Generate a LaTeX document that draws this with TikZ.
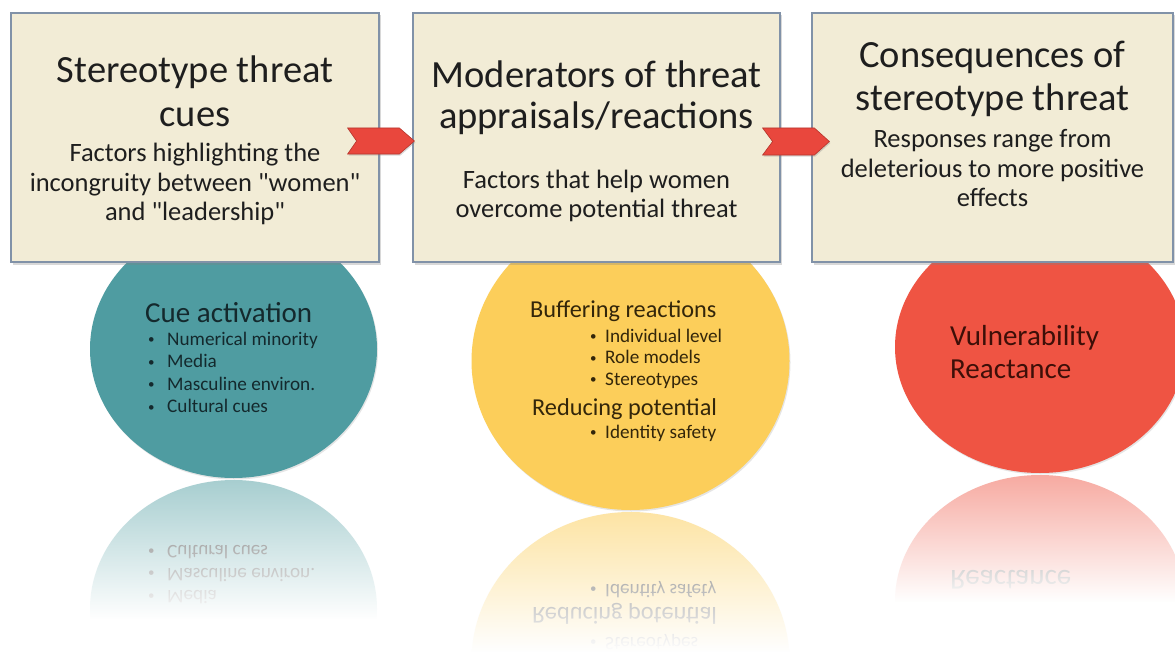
\documentclass[tikz,border=0pt]{standalone}
\usepackage{fontspec}
\setmainfont{Carlito}[Ligatures=TeXOff]
\usetikzlibrary{calc,shadows,fadings,shapes.geometric}

\definecolor{boxfill}{HTML}{F2ECD6}
\definecolor{boxline}{HTML}{8192A8}
\definecolor{ink}{HTML}{1E1E1E}
\definecolor{tealc}{HTML}{4F9CA1}
\definecolor{yellowc}{HTML}{FCCE5A}
\definecolor{redc}{HTML}{EF5443}
\definecolor{tealink}{HTML}{14292D}
\definecolor{yellowink}{HTML}{33260A}
\definecolor{redink}{HTML}{3D0F08}
\definecolor{arrowred}{HTML}{E9473D}
\definecolor{arrowedge}{HTML}{B5352C}
\definecolor{mirrorink}{HTML}{666666}

% white veil that hides the mirrored discs towards the bottom
\tikzfading[name=fadeout, top color=transparent!100, bottom color=transparent!0]

\tikzset{
  stagebox/.style={draw=boxline, line width=1.2pt, fill=boxfill, inner sep=0pt,
    minimum height=249pt,
    drop shadow={shadow xshift=2pt, shadow yshift=-2.5pt, opacity=0.3}},
  disc/.style={ellipse, inner sep=0pt, draw=none,
    drop shadow={shadow xshift=1pt, shadow yshift=-1.5pt, opacity=0.2}},
  ttl/.style={anchor=base, inner sep=0pt, text=ink, font=\fontsize{38.5}{44}\selectfont},
  sub/.style={anchor=base, inner sep=0pt, text=ink, font=\fontsize{26.5}{30}\selectfont},
  bighead/.style={anchor=base west, inner sep=0pt, font=\fontsize{29}{33}\selectfont},
  midhead/.style={anchor=base west, inner sep=0pt, font=\fontsize{24.3}{28}\selectfont},
  itemtxt/.style={anchor=base west, inner sep=0pt, font=\fontsize{19.2}{22}\selectfont},
  mirrored/.style={text=mirrorink, transform shape},
  chevron/.style={fill=arrowred, draw=arrowedge, line width=0.6pt, line join=miter,
    drop shadow={shadow xshift=1pt, shadow yshift=-1.5pt, opacity=0.3}}
}

% small list bullets
\newcommand\dotmark{{\fontsize{13}{13}\selectfont\raisebox{1.5pt}{•}}}
\newcommand\wideitem[1]{\makebox[19pt][l]{\dotmark}#1}
\newcommand\narrowitem[1]{\makebox[15pt][l]{\dotmark}#1}

\begin{document}
\begin{tikzpicture}[x=1pt, y=-1pt]
\useasboundingbox[fill=white] (0,0) rectangle (1175,658);

% ---- discs below the boxes ----
\node[disc, fill=tealc, minimum width=287pt, minimum height=258pt] (e1) at (233.5,349) {};
\node[disc, fill=yellowc, minimum width=318pt, minimum height=298pt] (e2) at (630.5,361) {};
\node[disc, fill=redc, minimum width=290pt, minimum height=252pt] (e3) at (1040,347) {};

\node[bighead, text=tealink] (ch) at (145,322) {Cue activation};
\node[itemtxt, text=tealink] (ci0) at (148,345) {\wideitem{Numerical minority}};
\node[itemtxt, text=tealink] (ci1) at (148,367.5) {\wideitem{Media}};
\node[itemtxt, text=tealink] (ci2) at (148,390) {\wideitem{Masculine environ.}};
\node[itemtxt, text=tealink] (ci3) at (148,412.5) {\wideitem{Cultural cues}};

\node[midhead, text=yellowink] (mh) at (530,317) {Buffering reactions};
\node[itemtxt, text=yellowink] (mi0) at (590,342) {\narrowitem{Individual level}};
\node[itemtxt, text=yellowink] (mi1) at (590,363.5) {\narrowitem{Role models}};
\node[itemtxt, text=yellowink] (mi2) at (590,385) {\narrowitem{Stereotypes}};
\node[midhead, text=yellowink] (mr) at (532,415) {Reducing potential};
\node[itemtxt, text=yellowink] (ms) at (590,438) {\narrowitem{Identity safety}};

\node[bighead, text=redink] (qv) at (950,345) {Vulnerability};
\node[bighead, text=redink] (qr) at (950,378) {Reactance};

% ---- mirrored discs (only the lines that stay visible above the fade) ----
\begin{scope}[shift={(0,958)}, yscale=-1]
  \fill[tealc!50!white] (233.5,349) ellipse [x radius=143.5pt, y radius=129pt];
  \node[itemtxt, mirrored] (rci1) at (148,367.5) {\wideitem{Media}};
  \node[itemtxt, mirrored] (rci2) at (148,390) {\wideitem{Masculine environ.}};
  \node[itemtxt, mirrored] (rci3) at (148,412.5) {\wideitem{Cultural cues}};
\end{scope}
\begin{scope}[shift={(0,1022)}, yscale=-1]
  \fill[yellowc!55!white] (630.5,361) ellipse [x radius=159pt, y radius=149pt];
  \node[itemtxt, mirrored] (rmi2) at (590,385) {\narrowitem{Stereotypes}};
  \node[midhead, mirrored] (rmr) at (532,415) {Reducing potential};
  \node[itemtxt, mirrored] (rms) at (590,438) {\narrowitem{Identity safety}};
\end{scope}
\begin{scope}[shift={(0,948)}, yscale=-1]
  \fill[redc!50!white] (1040,347) ellipse [x radius=145pt, y radius=126pt];
  \node[bighead, mirrored] (rqr) at (950,378) {Reactance};
\end{scope}
\fill[white, path fading=fadeout] (85,479.5) rectangle (385,619);
\fill[white] (85,619) rectangle (385,660);
\fill[white, path fading=fadeout] (465,511.5) rectangle (796,652);
\fill[white] (465,652) rectangle (796,660);
\fill[white, path fading=fadeout] (890,474.5) rectangle (1180,602);
\fill[white] (890,602) rectangle (1180,660);

% ---- the three stages ----
\node[stagebox, minimum width=368pt] (b1) at (195,137.5) {};
\node[stagebox, minimum width=367pt] (b2) at (596.5,137.5) {};
\node[stagebox, minimum width=361pt] (b3) at (992.5,137.5) {};

\node[ttl] (b1a) at (195,83) {Stereotype threat};
\node[ttl] (b1b) at (195,127) {cues};
\node[sub] (b1c) at (195,161) {Factors highlighting the};
\node[sub] (b1d) at (195,191) {incongruity between "women"};
\node[sub] (b1e) at (195,220) {and "leadership"};

\node[ttl] (b2a) at (596.5,88) {Moderators of threat};
\node[ttl] (b2b) at (596.5,129) {appraisals/reactions};
\node[sub] (b2c) at (596.5,188) {Factors that help women};
\node[sub] (b2d) at (596.5,217) {overcome potential threat};

\node[ttl] (b3a) at (992.5,68) {Consequences of};
\node[ttl] (b3b) at (992.5,111) {stereotype threat};
\node[sub] (b3c) at (992.5,148) {Responses range from};
\node[sub] (b3d) at (992.5,177) {deleterious to more positive};
\node[sub] (b3e) at (992.5,206) {effects};

% ---- chevron arrows between the stages ----
\coordinate (a1n) at ($(b1.east)+(-23,3.5)$);
\coordinate (a1p) at ($(b2.west)+(2,3.5)$);
\filldraw[chevron] (a1n) -- ++(-9,-13) -- ($(a1p)+(-15,-13)$) -- (a1p)
  -- ($(a1p)+(-15,13)$) -- ($(a1n)+(-9,13)$) -- cycle;

\coordinate (a2n) at ($(b2.east)+(-8,4)$);
\coordinate (a2p) at ($(b3.west)+(18,4)$);
\filldraw[chevron] (a2n) -- ++(-10,-13.5) -- ($(a2p)+(-15,-13.5)$) -- (a2p)
  -- ($(a2p)+(-15,13.5)$) -- ($(a2n)+(-10,13.5)$) -- cycle;
\end{tikzpicture}
\end{document}
